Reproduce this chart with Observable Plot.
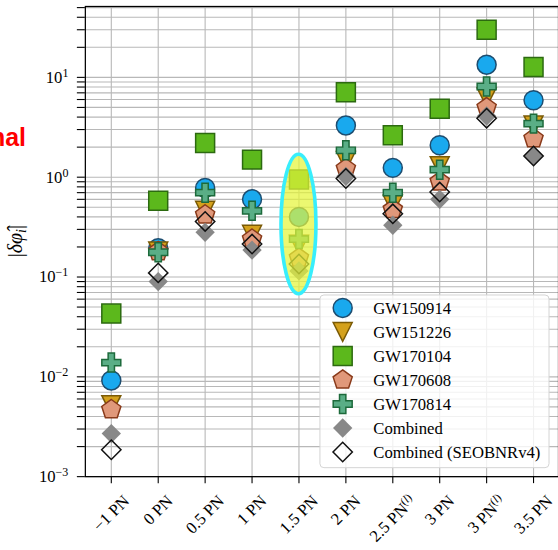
<!DOCTYPE html>
<html>
<head>
<meta charset="utf-8">
<script src="https://cdn.jsdelivr.net/npm/d3@7"></script>
<script src="https://cdn.jsdelivr.net/npm/@observablehq/plot@0.6"></script>
<style>
  html, body { margin: 0; padding: 0; background: #fff; overflow: hidden; }
  #chart { position: relative; width: 558px; height: 550px; overflow: hidden; }
  #chart svg { display: block; }
</style>
</head>
<body>
<div id="chart"></div>
<script>
// PN orders (x categories) and their printed labels
const orders = ["-1", "0", "0.5", "1", "1.5", "2", "2.5l", "3", "3l", "3.5"];
const orderLabels = ["−1 PN", "0 PN", "0.5 PN", "1 PN", "1.5 PN", "2 PN", "2.5 PN(l)", "3 PN", "3 PN(l)", "3.5 PN"];

// |δφ̂_i| per event, one value per PN order
const gw150914 = [0.0092, 0.194, 0.78, 0.60, 0.40, 3.3, 1.24, 2.09, 13.4, 5.9];
const gw151226 = [0.0052, 0.18, 0.46, 0.265, 0.21, 1.45, 0.53, 1.29, 6.3, 3.3];
const gw170104 = [0.043, 0.58, 2.2, 1.50, 0.95, 7.1, 2.63, 4.86, 30, 12.7];
const gw170608 = [0.0047, 0.18, 0.42, 0.24, 0.155, 1.22, 0.475, 0.90, 4.98, 2.44];
const gw170814 = [0.0139, 0.177, 0.70, 0.46, 0.24, 1.86, 0.70, 1.19, 8.1, 3.44];
const combined = [0.0027, 0.090, 0.28, 0.186, 0.115, 1.02, 0.33, 0.60, 4.1, 1.63];
const combinedSEOB = [0.00186, 0.110, 0.36, 0.214, 0.135, 0.97, 0.43, 0.71, 3.9, 1.63];

const seriesNames = ["GW150914", "GW151226", "GW170104", "GW170608", "GW170814", "Combined", "Combined (SEOBNRv4)"];
const seriesValues = [gw150914, gw151226, gw170104, gw170608, gw170814, combined, combinedSEOB];

// y-axis range and ticks
const yDomain = [1e-3, 51.3];
const yMajor = [1e-3, 1e-2, 1e-1, 1e0, 1e1];
const yMinorMultipliers = [2, 3, 4, 5, 6, 7, 8, 9];

// highlighted band around the 1.5 PN coefficient
const highlightOrder = "1.5";
const highlightRange = [0.0673, 1.68];

// ---- marker shapes (size = π r²) ----
const half = (s) => Math.sqrt(s / Math.PI);
const poly = (c, pts) => { pts.forEach(([x, y], i) => i ? c.lineTo(x, y) : c.moveTo(x, y)); c.closePath(); };
const symCircle = { draw(c, s) { const h = half(s); c.moveTo(h, 0); c.arc(0, 0, h, 0, 2 * Math.PI); c.closePath(); } };
const symTriDown = { draw(c, s) { const h = half(s); poly(c, [[0, h], [-h, -h], [h, -h]]); } };
const symSquare = { draw(c, s) { const h = half(s); poly(c, [[-h, -h], [h, -h], [h, h], [-h, h]]); } };
const symPentagon = { draw(c, s) {
  const h = half(s) * 1.06;
  poly(c, d3.range(5).map(i => { const a = -Math.PI / 2 + i * 2 * Math.PI / 5; return [h * Math.cos(a), h * Math.sin(a)]; }));
} };
const symPlus = { draw(c, s) {
  const h = half(s), t = h / 3;
  poly(c, [[-t, -h], [t, -h], [t, -t], [h, -t], [h, t], [t, t], [t, h], [-t, h], [-t, t], [-h, t], [-h, -t], [-t, -t]]);
} };
const symDiamond = { draw(c, s) { const h = half(s) * 1.02; poly(c, [[0, -h], [h, 0], [0, h], [-h, 0]]); } };

const styles = [
  { symbol: symCircle,   fill: "#19a9ee", stroke: "#1d4d70" },
  { symbol: symTriDown,  fill: "#d4a11c", stroke: "#7a5a05" },
  { symbol: symSquare,   fill: "#5cb81c", stroke: "#2c6a10" },
  { symbol: symPentagon, fill: "#e0987a", stroke: "#893a1a" },
  { symbol: symPlus,     fill: "#5aae86", stroke: "#1d6a3b" },
  { symbol: symDiamond,  fill: "#888888", stroke: "none" },
  { symbol: symDiamond,  fill: "none",    stroke: "#111111" }
];
const R = 9.5;

// long table: one row per (series, order)
const rows = seriesNames.map((name, k) => orders.map((o, i) => ({ series: name, order: o, value: seriesValues[k][i] })));

// tick lists
const yMinor = [];
yMajor.forEach(b => yMinorMultipliers.forEach(m => { if (b * m <= yDomain[1]) yMinor.push(b * m); }));
const yAll = [...yMajor, ...yMinor];

const serif = "'Liberation Serif', 'Times New Roman', serif";
const gridColor = "#b8b8b8";

const plot = Plot.plot({
  width: 559,
  height: 550,
  marginLeft: 85,
  marginRight: 0,
  marginTop: 6,
  marginBottom: 73,
  style: { background: "transparent", overflow: "visible" },
  x: { type: "point", domain: orders, padding: 0.5, axis: null },
  y: { type: "log", domain: yDomain, axis: null },
  marks: [
    Plot.ruleY(yAll, { stroke: gridColor, strokeWidth: 1.1 }),
    Plot.ruleX(orders, { stroke: gridColor, strokeWidth: 1.1 }),
    ...rows.map((data, k) => Plot.dot(data, {
      x: "order", y: "value", r: R,
      symbol: styles[k].symbol,
      fill: styles[k].fill,
      stroke: styles[k].stroke,
      strokeWidth: 1.5
    })),
    Plot.frame({ stroke: "#000", strokeWidth: 1.25 }),
    Plot.axisY(yAll, {
      tickSize: 8, tickPadding: 9, strokeWidth: 1.1, label: null,
      fontSize: 16.7, fontFamily: serif, fill: "#000",
      tickFormat: d => yMajor.includes(d) ? `10^${Math.round(Math.log10(d))}` : ""
    }),
    Plot.axisX(orders, { tickSize: 7, strokeWidth: 1.1, label: null, tickFormat: () => "" })
  ]
});

document.getElementById("chart").appendChild(plot);
const svg = d3.select(plot);
const xs = plot.scale("x");
const ys = plot.scale("y");

// y tick labels as 10 with a raised exponent
svg.selectAll('g[aria-label="y-axis tick label"] text').each(function () {
  const t = this.textContent;
  if (!t || !t.includes("^")) return;
  const [base, exp] = t.split("^");
  this.textContent = "";
  const sel = d3.select(this);
  sel.append("tspan").text(base);
  sel.append("tspan").attr("dy", "-0.5em").attr("font-size", "0.72em").text(exp.replace("-", "−"));
});

// rotated x tick labels, centred under each tick
const xBottom = ys.range[0];
const gx = svg.append("g").attr("font-family", serif).attr("font-size", 16.7).attr("fill", "#000");
orders.forEach((o, i) => {
  const label = orderLabels[i];
  const t = gx.append("text").attr("text-anchor", "middle").attr("dy", "0.35em");
  if (label.endsWith("(l)")) {
    t.append("tspan").text(label.slice(0, -3));
    const sup = t.append("tspan").attr("dy", "-0.5em").attr("font-size", "0.7em");
    sup.append("tspan").text("(");
    sup.append("tspan").attr("font-style", "italic").text("l");
    sup.append("tspan").text(")");
  } else {
    t.text(label);
  }
  const bb = t.node().getBBox();
  const off = (bb.width + bb.height) / (2 * Math.SQRT2);
  t.attr("transform", `translate(${xs.apply(o)},${xBottom + 15 + off}) rotate(-45)`);
});

// y axis title |δφ̂_i|
const yt = svg.append("text")
  .attr("transform", `translate(15,${(ys.range[0] + ys.range[1]) / 2}) rotate(-90)`)
  .attr("text-anchor", "middle").attr("dy", "0.35em")
  .attr("font-family", serif).attr("font-size", 20).attr("fill", "#000");
yt.append("tspan").text("|");
yt.append("tspan").attr("font-style", "italic").text("δφ\u0302");
yt.append("tspan").attr("font-style", "italic").attr("font-size", "0.72em").attr("dy", "0.3em").text("i");
yt.append("tspan").attr("dy", "-0.22em").text("|");

// highlight ellipse over the 1.5 PN column
const yHi = ys.apply(highlightRange[1]), yLo = ys.apply(highlightRange[0]);
svg.append("ellipse")
  .attr("cx", xs.apply(highlightOrder))
  .attr("cy", (yHi + yLo) / 2)
  .attr("rx", 17.5)
  .attr("ry", (yLo - yHi) / 2)
  .attr("fill", "#e4f53a").attr("fill-opacity", 0.72)
  .attr("stroke", "#38eefc").attr("stroke-width", 3.6);

// legend
const lg = svg.append("g");
lg.append("rect")
  .attr("x", 320.5).attr("y", 295.5).attr("width", 229.5).attr("height", 173)
  .attr("rx", 4).attr("fill", "#fff").attr("fill-opacity", 0.8)
  .attr("stroke", "#d4d4d4").attr("stroke-width", 1);
seriesNames.forEach((name, k) => {
  const cy = 308.5 + k * 24.05;
  const p = d3.path();
  styles[k].symbol.draw(p, R * R * Math.PI);
  lg.append("path").attr("d", p.toString())
    .attr("transform", `translate(343.3,${cy})`)
    .attr("fill", styles[k].fill).attr("stroke", styles[k].stroke).attr("stroke-width", 1.5);
  lg.append("text").attr("x", 374).attr("y", cy).attr("dy", "0.35em")
    .attr("text-anchor", "start")
    .attr("font-family", serif).attr("font-size", 16.7).attr("fill", "#000").text(name);
});

// red heading fragment at the left edge
svg.append("text")
  .attr("x", 26).attr("y", 146.7).attr("text-anchor", "end")
  .attr("font-family", "'Liberation Sans', Arial, sans-serif").attr("font-weight", "bold")
  .attr("font-size", 25).attr("fill", "#ff0000").text("nal");
</script>
</body>
</html>
